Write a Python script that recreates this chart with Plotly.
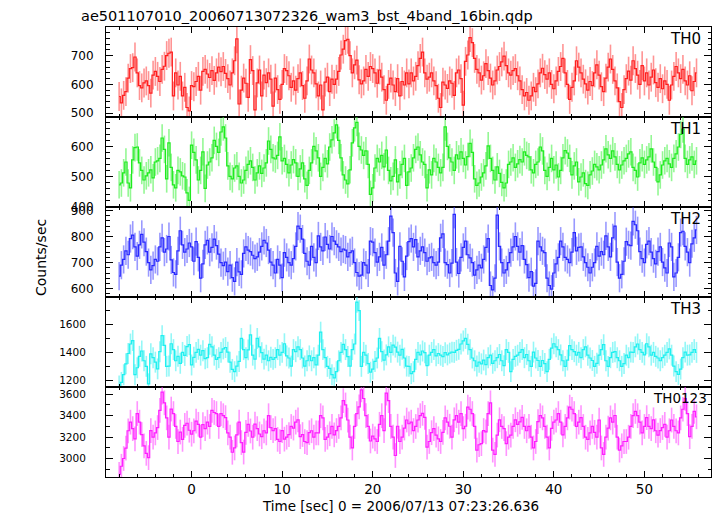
import plotly.graph_objects as go
from plotly.subplots import make_subplots

# ---------------- data (0.25 s bins starting at t = -8 s) ----------------
T_START = -8.0
BIN_SEC = 0.25

th0 = [
    558, 536, 562, 575, 622, 655, 658, 695, 640, 596, 588, 605, 612, 596, 570, 632,
    645, 628, 610, 652, 663, 700, 708, 712, 560, 640, 598, 628, 560, 590, 520, 508,
    596, 592, 610, 628, 580, 645, 652, 636, 624, 648, 614, 640, 660, 644, 662, 638,
    620, 598, 640, 682, 758, 532, 580, 622, 604, 555, 686, 648, 512, 605, 650, 560,
    632, 606, 640, 618, 525, 622, 582, 548, 600, 655, 648, 630, 590, 612, 580, 620,
    640, 596, 552, 612, 688, 650, 640, 602, 560, 598, 512, 608, 625, 575, 618, 600,
    618, 645, 702, 722, 752, 756, 700, 640, 668, 684, 616, 602, 612, 652, 628, 662,
    655, 640, 604, 650, 625, 582, 545, 600, 622, 598, 575, 620, 560, 610, 598, 640,
    602, 640, 612, 628, 665, 690, 712, 640, 618, 625, 640, 612, 596, 552, 520, 608,
    598, 586, 612, 604, 562, 640, 650, 620, 528, 680, 702, 762, 745, 690, 652, 640,
    615, 630, 672, 648, 622, 598, 612, 650, 662, 678, 698, 665, 640, 632, 648, 655,
    630, 612, 582, 560, 572, 545, 560, 590, 575, 602, 640, 656, 634, 618, 640, 600,
    585, 612, 645, 662, 690, 640, 600, 548, 590, 612, 682, 660, 640, 618, 602, 580,
    610, 596, 640, 668, 632, 592, 575, 622, 660, 688, 652, 612, 588, 540, 520, 582,
    620, 646, 615, 682, 655, 632, 600, 665, 612, 640, 598, 625, 650, 606, 590, 620,
    585, 612, 600, 545, 598, 628, 662, 640, 620, 652, 612, 598, 630, 578, 610, 640,
]

th1 = [
    472, 478, 512, 548, 478, 462, 555, 596, 598, 545, 520, 488, 502, 512, 522, 495,
    548, 552, 560, 628, 590, 492, 612, 530, 472, 462, 520, 515, 502, 498, 445, 420,
    604, 580, 555, 488, 520, 582, 460, 538, 548, 562, 620, 600, 580, 648, 665, 628,
    535, 500, 492, 528, 535, 500, 478, 488, 520, 540, 552, 530, 488, 512, 535, 510,
    528, 545, 618, 590, 562, 558, 570, 632, 552, 560, 540, 512, 538, 556, 545, 500,
    525, 545, 492, 470, 520, 545, 600, 585, 562, 500, 530, 560, 542, 598, 622, 645,
    672, 620, 562, 505, 488, 475, 522, 612, 662, 680, 600, 588, 570, 585, 540, 440,
    462, 528, 560, 548, 570, 532, 588, 520, 485, 500, 555, 482, 505, 540, 560, 470,
    515, 528, 562, 590, 598, 572, 548, 540, 462, 522, 505, 560, 548, 530, 512, 530,
    665, 600, 562, 548, 520, 572, 558, 582, 560, 538, 566, 610, 580, 492, 470, 478,
    498, 512, 535, 602, 560, 520, 488, 532, 510, 480, 462, 478, 540, 548, 562, 530,
    542, 556, 548, 582, 570, 565, 522, 512, 540, 548, 598, 585, 520, 500, 530, 560,
    522, 538, 498, 520, 562, 586, 578, 560, 505, 535, 548, 482, 498, 512, 476, 470,
    505, 518, 540, 532, 522, 538, 555, 592, 572, 560, 585, 565, 540, 522, 538, 552,
    560, 575, 582, 530, 520, 498, 545, 562, 540, 555, 565, 592, 548, 530, 482, 505,
    538, 552, 560, 542, 530, 560, 575, 598, 640, 658, 560, 540, 555, 565, 540, 552,
]

th2 = [
    648, 690, 712, 745, 730, 792, 805, 760, 725, 768, 808, 778, 742, 700, 672, 688,
    712, 705, 760, 795, 740, 752, 800, 710, 662, 655, 745, 822, 768, 740, 752, 775,
    760, 705, 780, 720, 640, 695, 768, 785, 740, 758, 790, 765, 732, 700, 688, 702,
    665, 690, 642, 628, 702, 664, 655, 735, 760, 748, 742, 728, 715, 722, 740, 762,
    785, 775, 748, 702, 690, 660, 712, 690, 642, 738, 720, 700, 690, 715, 762, 840,
    830, 790, 735, 705, 690, 762, 720, 700, 802, 760, 745, 798, 770, 752, 800, 782,
    770, 760, 742, 752, 748, 722, 738, 745, 700, 662, 648, 652, 700, 690, 660, 782,
    778, 738, 702, 722, 758, 690, 730, 782, 878, 815, 660, 628, 762, 705, 645, 725,
    780, 792, 760, 788, 722, 745, 760, 738, 705, 718, 722, 700, 690, 702, 795, 810,
    700, 692, 660, 698, 885, 702, 658, 720, 758, 782, 730, 718, 700, 652, 672, 690,
    680, 712, 758, 792, 612, 595, 640, 882, 762, 700, 660, 672, 700, 738, 760, 800,
    762, 740, 765, 712, 692, 642, 665, 610, 620, 782, 760, 745, 738, 640, 612, 598,
    660, 695, 720, 782, 760, 720, 712, 700, 740, 815, 745, 758, 760, 722, 700, 682,
    660, 682, 700, 762, 725, 742, 730, 802, 760, 722, 795, 840, 702, 640, 655, 705,
    780, 768, 765, 858, 845, 822, 742, 715, 700, 770, 782, 740, 715, 695, 742, 760,
    702, 680, 660, 775, 760, 645, 660, 720, 815, 820, 762, 740, 700, 772, 795, 825,
]

th3 = [
    1160, 1185, 1240, 1318, 1392, 1460, 1485, 1240, 1290, 1372, 1410, 1340, 1300, 1175, 1390, 1362,
    1330, 1282, 1405, 1520, 1450, 1300, 1302, 1462, 1420, 1340, 1372, 1322, 1400, 1378, 1442, 1455,
    1310, 1365, 1400, 1422, 1380, 1412, 1355, 1362, 1458, 1440, 1380, 1350, 1362, 1400, 1425, 1435,
    1402, 1330, 1278, 1262, 1302, 1335, 1500, 1420, 1362, 1418, 1525, 1380, 1352, 1500, 1440, 1398,
    1352, 1380, 1340, 1365, 1350, 1362, 1420, 1380, 1400, 1462, 1375, 1360, 1302, 1420, 1405, 1440,
    1420, 1360, 1302, 1340, 1375, 1340, 1362, 1310, 1380, 1545, 1420, 1362, 1300, 1285, 1240, 1218,
    1262, 1340, 1400, 1458, 1420, 1370, 1302, 1420, 1460, 1760, 1700, 1300, 1400, 1380, 1320, 1258,
    1280, 1335, 1360, 1500, 1405, 1345, 1382, 1440, 1400, 1452, 1438, 1402, 1380, 1422, 1360, 1302,
    1300, 1248, 1262, 1350, 1400, 1382, 1410, 1398, 1305, 1380, 1400, 1420, 1375, 1392, 1380, 1370,
    1398, 1382, 1395, 1402, 1400, 1415, 1422, 1460, 1482, 1500, 1458, 1420, 1360, 1340, 1302, 1330,
    1318, 1345, 1312, 1362, 1380, 1322, 1340, 1362, 1385, 1340, 1305, 1420, 1400, 1262, 1350, 1372,
    1380, 1400, 1420, 1362, 1385, 1340, 1300, 1402, 1360, 1342, 1300, 1342, 1320, 1262, 1350, 1430,
    1462, 1440, 1420, 1382, 1340, 1300, 1345, 1448, 1420, 1405, 1380, 1400, 1362, 1420, 1440, 1380,
    1360, 1342, 1300, 1322, 1380, 1420, 1455, 1340, 1300, 1362, 1400, 1405, 1362, 1340, 1300, 1320,
    1380, 1362, 1402, 1400, 1440, 1460, 1420, 1400, 1382, 1462, 1440, 1380, 1400, 1372, 1360, 1340,
    1362, 1380, 1400, 1425, 1380, 1302, 1262, 1242, 1280, 1362, 1402, 1380, 1382, 1400, 1420, 1400,
]

th0123 = [
    2855, 2930, 3002, 3098, 3260, 3340, 3280, 3185, 3420, 3340, 3225, 3120, 3050, 3010, 3262, 3200,
    3240, 3290, 3450, 3620, 3520, 3380, 3200, 3462, 3420, 3300, 3160, 3248, 3180, 3310, 3330, 3265,
    3228, 3260, 3350, 3320, 3200, 3318, 3280, 3340, 3300, 3450, 3430, 3420, 3300, 3420, 3400, 3382,
    3240, 3200, 3060, 3100, 3222, 3340, 3150, 3062, 3245, 3320, 3258, 3200, 3322, 3280, 3230, 3205,
    3260, 3240, 3400, 3290, 3262, 3280, 3180, 3160, 3262, 3182, 3200, 3225, 3300, 3285, 3340, 3362,
    3205, 3225, 3160, 3150, 3242, 3260, 3200, 3240, 3240, 3400, 3380, 3180, 3200, 3232, 3300, 3222,
    3262, 3300, 3380, 3540, 3500, 3360, 3200, 3100, 3300, 3420, 3482, 3640, 3560, 3400, 3300, 3165,
    3210, 3185, 3160, 3320, 3400, 3262, 3610, 3540, 3300, 3200, 3030, 3302, 3160, 3200, 3285, 3360,
    3325, 3340, 3262, 3300, 3360, 3400, 3422, 3385, 3108, 3160, 3242, 3280, 3220, 3185, 3160, 3245,
    3380, 3340, 3302, 3200, 3362, 3400, 3340, 3420, 3280, 3302, 3480, 3460, 3420, 3300, 3080, 3130,
    3140, 3262, 3250, 3420, 3520, 3080, 3040, 3220, 3362, 3300, 3280, 3140, 3200, 3220, 3300, 3362,
    3320, 3342, 3385, 3300, 3260, 3300, 3200, 3100, 3160, 3345, 3400, 3380, 3300, 3200, 3100, 3282,
    3340, 3360, 3420, 3340, 3222, 3300, 3380, 3480, 3460, 3420, 3300, 3340, 3382, 3300, 3200, 3180,
    3240, 3300, 3245, 3200, 3360, 3100, 3040, 3200, 3285, 3380, 3340, 3402, 3200, 3080, 3120, 3160,
    3160, 3200, 3300, 3400, 3440, 3400, 3340, 3240, 3300, 3382, 3300, 3280, 3362, 3260, 3220, 3262,
    3290, 3320, 3200, 3260, 3360, 3300, 3260, 3240, 3380, 3460, 3560, 3420, 3205, 3300, 3440, 3390,
]

band_names = ["TH0", "TH1", "TH2", "TH3", "TH0123"]
band_errors = [50, 46, 54, 75, 115]          # typical 1-sigma error per bin (counts/sec)
y_ranges = [[487, 799], [398, 698], [568, 913], [1152, 1797], [2830, 3667]]
y_dticks = [100, 100, 100, 200, 200]
y_minor = [20, 20, 20, 100, 100]
x_tick_vals = [0, 10, 20, 30, 40, 50]

series = [th0, th1, th2, th3, th0123]
times = [T_START + BIN_SEC * i for i in range(len(th0))]

line_colors = ["rgb(255,30,30)", "rgb(30,235,30)", "rgb(40,40,255)",
               "rgb(30,240,240)", "rgb(255,30,255)"]
err_colors = ["rgba(255,60,60,0.55)", "rgba(60,240,60,0.55)", "rgba(70,70,255,0.55)",
              "rgba(60,240,240,0.55)", "rgba(255,60,255,0.55)"]

FONT = "DejaVu Sans"

fig = make_subplots(rows=5, cols=1, shared_xaxes=True, vertical_spacing=0)

for k, (vals, err) in enumerate(zip(series, band_errors)):
    fig.add_trace(go.Scatter(
        x=times, y=vals, mode="lines", line_shape="hvh",
        line=dict(color=line_colors[k], width=1.2),
        error_y=dict(type="constant", value=err, color=err_colors[k],
                     thickness=1.6, width=0),
        showlegend=False, hoverinfo="skip"),
        row=k + 1, col=1)

    tick_font_size = 12 if y_ranges[k][1] < 1000 else 10.5
    fig.update_yaxes(
        range=y_ranges[k], dtick=y_dticks[k], tick0=0,
        showline=True, linecolor="black", linewidth=1, mirror="allticks",
        ticks="inside", ticklen=7, tickcolor="black", tickwidth=1,
        minor=dict(dtick=y_minor[k], ticks="inside", ticklen=3.5,
                   tickcolor="black", tickwidth=1),
        showgrid=False, zeroline=False, automargin=False,
        tickfont=dict(family=FONT, size=tick_font_size, color="black"),
        ticklabelstandoff=9 if tick_font_size == 12 else 17,
        row=k + 1, col=1)

    fig.update_xaxes(
        range=[-9.45, 57.35], tickvals=x_tick_vals,
        showline=True, linecolor="black", linewidth=1, mirror="allticks",
        ticks="inside", ticklen=6, tickcolor="black", tickwidth=1,
        minor=dict(dtick=2, tick0=0, ticks="inside", ticklen=3,
                   tickcolor="black", tickwidth=1),
        showgrid=False, zeroline=False, automargin=False,
        tickfont=dict(family=FONT, size=13.5, color="black"),
        showticklabels=(k == 4),
        row=k + 1, col=1)

annotations = []
panel_tops_px = [26.7, 116.7, 206.7, 296.7, 386.0]
plot_top, plot_h, plot_left, plot_w = 27.0, 450.0, 106.0, 605.0
for k, name in enumerate(band_names):
    annotations.append(dict(
        text=name, xref="paper", yref="paper",
        x=(703 - plot_left) / plot_w if name != "TH0123" else (709 - plot_left) / plot_w,
        y=1 - (panel_tops_px[k] + 1.5 - plot_top) / plot_h,
        xanchor="right", yanchor="top", showarrow=False,
        font=dict(family=FONT, size=15 if name != "TH0123" else 13.5, color="black")))

annotations.append(dict(
    text="ae501107010_20060713072326_wam3_bst_4band_16bin.qdp",
    xref="paper", yref="paper",
    x=(79 - plot_left) / plot_w, y=1 - (16 - plot_top) / plot_h,
    xanchor="left", yanchor="middle", showarrow=False,
    font=dict(family=FONT, size=14.5, color="black")))

annotations.append(dict(
    text="Time [sec] 0 = 2006/07/13 07:23:26.636",
    xref="paper", yref="paper",
    x=(260 - plot_left) / plot_w, y=1 - (506 - plot_top) / plot_h,
    xanchor="left", yanchor="middle", showarrow=False,
    font=dict(family=FONT, size=13.5, color="black")))

annotations.append(dict(
    text="Counts/sec", xref="paper", yref="paper",
    x=(41 - plot_left) / plot_w, y=1 - (258 - plot_top) / plot_h,
    xanchor="center", yanchor="middle", textangle=-90, showarrow=False,
    font=dict(family=FONT, size=14, color="black")))

fig.update_layout(
    width=717, height=516,
    margin=dict(l=106, r=6, t=27, b=39),
    paper_bgcolor="white", plot_bgcolor="white",
    annotations=annotations,
    font=dict(family=FONT, color="black"),
)

fig.write_html("out.html",
               config={"displayModeBar": False},
               post_script="document.body.style.margin='0';document.body.style.padding='0';")
